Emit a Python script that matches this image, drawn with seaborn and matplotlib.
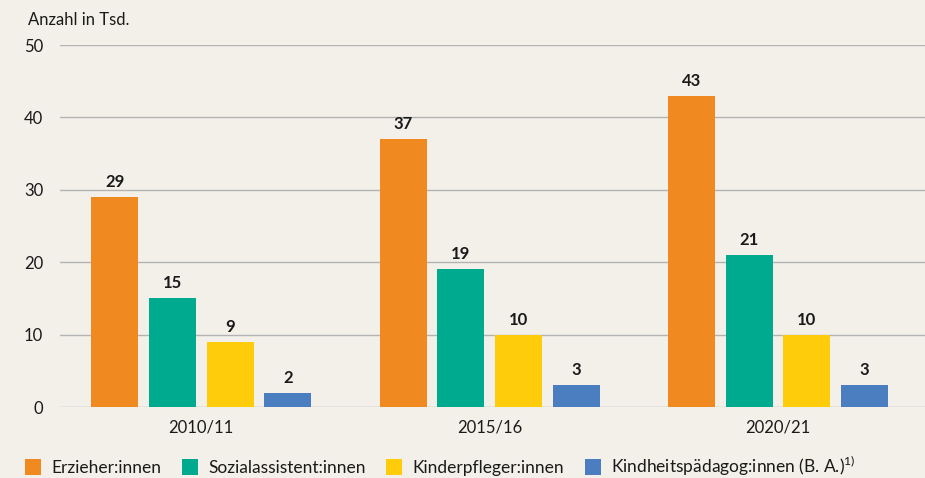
import matplotlib
matplotlib.use("Agg")
import matplotlib.pyplot as plt
import seaborn as sns
import pandas as pd
from matplotlib.patches import Patch

years = ["2010/11", "2015/16", "2020/21"]
categories = ["Erzieher:innen", "Sozialassistent:innen", "Kinderpfleger:innen",
              "Kindheitspädagog:innen (B. A.)"]
legend_labels = ["Erzieher:innen", "Sozialassistent:innen", "Kinderpfleger:innen",
                 "Kindheitspädagog:innen (B. A.)$^{\\mathregular{1)}}$"]
erzieher = [29, 37, 43]
sozialassistent = [15, 19, 21]
kinderpfleger = [9, 10, 10]
kindheitspaedagog = [2, 3, 3]
y_ticks = [0, 10, 20, 30, 40, 50]

colors = ["#f0891f", "#00aa8e", "#fecc0a", "#4a7ec0"]
bg = "#f3f0e9"

rows = []
for cat, vals in zip(categories, [erzieher, sozialassistent, kinderpfleger, kindheitspaedagog]):
    for yr, v in zip(years, vals):
        rows.append({"Jahr": yr, "Gruppe": cat, "Anzahl": v})
df = pd.DataFrame(rows)

sns.set_theme(style="white")
plt.rcParams["font.family"] = ["Lato", "DejaVu Sans"]

fig = plt.figure(figsize=(9.25, 4.78), dpi=100, facecolor=bg)
ax = fig.add_axes([60 / 925, 71 / 478, 865 / 925, 362 / 478])
ax.set_facecolor(bg)

sns.barplot(data=df, x="Jahr", y="Anzahl", hue="Gruppe", hue_order=categories,
            palette=colors, width=0.8, gap=0.185, saturation=1, legend=False,
            linewidth=0, ax=ax)

for cont in ax.containers:
    ax.bar_label(cont, fmt="%d", padding=5, fontsize=12, fontweight="bold", color="#1a1a1a")

ax.set_ylim(0, 50)
ax.set_xlim(-0.49, 2.51)
ax.set_yticks(y_ticks)
ax.yaxis.grid(True, color="#b3b3b3", linewidth=1)
ax.set_axisbelow(True)
for s in ax.spines.values():
    s.set_visible(False)
ax.tick_params(axis="both", length=0, labelsize=12, colors="#1a1a1a")
ax.tick_params(axis="y", pad=12)
ax.tick_params(axis="x", pad=9)
ax.set_xlabel("")
ax.set_ylabel("")

fig.text(28 / 925, 1 - 20 / 478, "Anzahl in Tsd.", fontsize=12, color="#1a1a1a",
         va="center", ha="left")

handles = [Patch(facecolor=c, edgecolor="none") for c in colors]
fig.legend(handles, legend_labels, loc="center left", ncol=4, frameon=False,
           bbox_to_anchor=(13 / 925, 1 - 466 / 478), fontsize=12.5,
           handlelength=0.9, handleheight=1.1, handletextpad=0.6, columnspacing=1.2,
           labelcolor="#1a1a1a", borderpad=0.2)

fig.savefig("out.png", dpi=100, facecolor=bg)
